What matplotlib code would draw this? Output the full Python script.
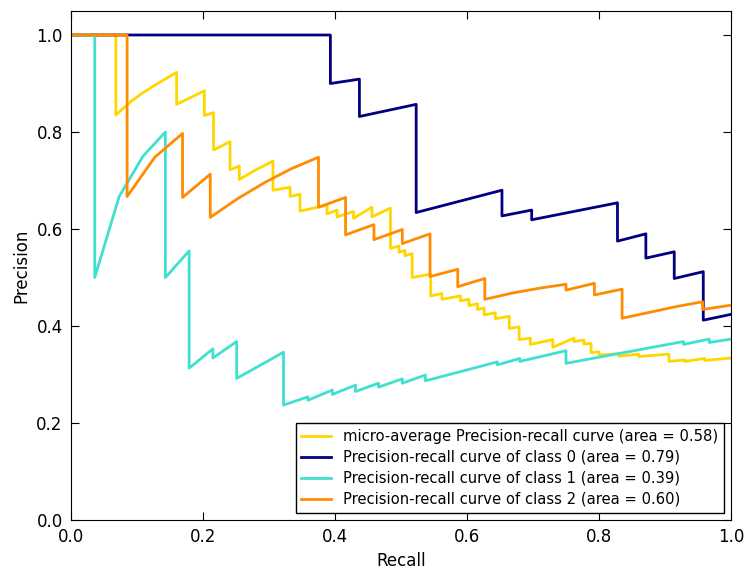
import matplotlib
matplotlib.use("Agg")
import matplotlib.pyplot as plt

# micro-average curve
recall_micro = [0.0, 0.068, 0.068, 0.09, 0.11, 0.135, 0.160, 0.160, 0.202, 0.202,
                0.216, 0.216, 0.241, 0.241, 0.255, 0.255, 0.280, 0.306, 0.306, 0.332,
                0.332, 0.347, 0.347, 0.388, 0.388, 0.403, 0.403, 0.428, 0.428, 0.456,
                0.456, 0.484, 0.484, 0.497, 0.497, 0.506, 0.506, 0.517, 0.517, 0.545,
                0.545, 0.562, 0.562, 0.590, 0.590, 0.603, 0.603, 0.616, 0.616, 0.626,
                0.626, 0.643, 0.643, 0.664, 0.664, 0.679, 0.679, 0.696, 0.696, 0.730,
                0.730, 0.762, 0.762, 0.777, 0.777, 0.788, 0.788, 0.800, 0.800, 0.830,
                0.830, 0.860, 0.860, 0.906, 0.906, 0.930, 0.930, 0.960, 0.960, 1.0]
prec_micro = [1.0, 1.0, 0.835, 0.862, 0.882, 0.903, 0.923, 0.857, 0.885, 0.834,
              0.840, 0.763, 0.780, 0.722, 0.730, 0.702, 0.722, 0.740, 0.680, 0.686,
              0.667, 0.672, 0.637, 0.649, 0.631, 0.639, 0.625, 0.636, 0.622, 0.645,
              0.625, 0.643, 0.560, 0.565, 0.552, 0.556, 0.545, 0.549, 0.500, 0.507,
              0.462, 0.467, 0.455, 0.462, 0.452, 0.455, 0.442, 0.446, 0.434, 0.437,
              0.423, 0.427, 0.415, 0.420, 0.395, 0.398, 0.372, 0.375, 0.362, 0.372,
              0.356, 0.375, 0.368, 0.371, 0.363, 0.364, 0.345, 0.347, 0.340, 0.343,
              0.338, 0.342, 0.337, 0.342, 0.327, 0.330, 0.327, 0.333, 0.329, 0.334]

# class 0
recall_0 = [0.0, 0.393, 0.393, 0.437, 0.437, 0.523, 0.523, 0.653, 0.653, 0.698,
            0.698, 0.828, 0.828, 0.871, 0.871, 0.914, 0.914, 0.958, 0.958, 1.0]
prec_0 = [1.0, 1.0, 0.900, 0.909, 0.832, 0.857, 0.634, 0.680, 0.627, 0.639,
          0.619, 0.654, 0.575, 0.590, 0.540, 0.553, 0.498, 0.512, 0.412, 0.424]

# class 1
recall_1 = [0.0, 0.036, 0.036, 0.073, 0.109, 0.143, 0.143, 0.179, 0.179, 0.215,
            0.215, 0.251, 0.251, 0.288, 0.322, 0.322, 0.359, 0.359, 0.396, 0.396,
            0.431, 0.431, 0.466, 0.466, 0.502, 0.502, 0.537, 0.537, 0.646, 0.646,
            0.680, 0.680, 0.750, 0.750, 0.928, 0.928, 0.967, 0.967, 1.0]
prec_1 = [1.0, 1.0, 0.500, 0.667, 0.750, 0.800, 0.500, 0.555, 0.313, 0.353,
          0.334, 0.368, 0.292, 0.320, 0.346, 0.237, 0.254, 0.247, 0.268, 0.259,
          0.278, 0.265, 0.282, 0.274, 0.291, 0.282, 0.299, 0.287, 0.326, 0.320,
          0.333, 0.327, 0.349, 0.323, 0.368, 0.362, 0.373, 0.366, 0.373]

# class 2
recall_2 = [0.0, 0.085, 0.085, 0.127, 0.169, 0.169, 0.211, 0.211, 0.253, 0.295,
            0.335, 0.375, 0.375, 0.416, 0.416, 0.459, 0.459, 0.502, 0.502, 0.544,
            0.544, 0.586, 0.586, 0.627, 0.627, 0.669, 0.710, 0.750, 0.750, 0.793,
            0.793, 0.835, 0.835, 0.876, 0.917, 0.957, 0.957, 1.0]
prec_2 = [1.0, 1.0, 0.667, 0.748, 0.797, 0.665, 0.713, 0.624, 0.663, 0.697,
          0.725, 0.748, 0.645, 0.665, 0.588, 0.609, 0.578, 0.599, 0.570, 0.590,
          0.502, 0.517, 0.481, 0.498, 0.455, 0.468, 0.478, 0.486, 0.474, 0.488,
          0.464, 0.476, 0.416, 0.428, 0.440, 0.450, 0.434, 0.443]

labels = ["micro-average Precision-recall curve (area = 0.58)",
          "Precision-recall curve of class 0 (area = 0.79)",
          "Precision-recall curve of class 1 (area = 0.39)",
          "Precision-recall curve of class 2 (area = 0.60)"]
colors = ["gold", "navy", "turquoise", "darkorange"]

fig = plt.figure(figsize=(7.45, 5.72), dpi=100)
ax = fig.add_axes([0.0953, 0.0909, 0.8859, 0.8903])

curves = [(recall_micro, prec_micro), (recall_0, prec_0),
          (recall_1, prec_1), (recall_2, prec_2)]
for (r, p), c, lab in zip(curves, colors, labels):
    ax.plot(r, p, color=c, lw=2, label=lab)

ax.set_xlim(0.0, 1.0)
ax.set_ylim(0.0, 1.05)
ax.set_xticks([0.0, 0.2, 0.4, 0.6, 0.8, 1.0])
ax.set_yticks([0.0, 0.2, 0.4, 0.6, 0.8, 1.0])
ax.tick_params(direction="in", top=True, right=True, length=6, labelsize=12, pad=6)
ax.set_xlabel("Recall", fontsize=12)
ax.set_ylabel("Precision", fontsize=12)

leg = ax.legend(loc="lower right", fontsize=10.6, fancybox=False, framealpha=1,
                edgecolor="black", borderaxespad=0.5, labelspacing=0.4)
leg.get_frame().set_linewidth(1.0)

fig.savefig("out.png", dpi=100)
